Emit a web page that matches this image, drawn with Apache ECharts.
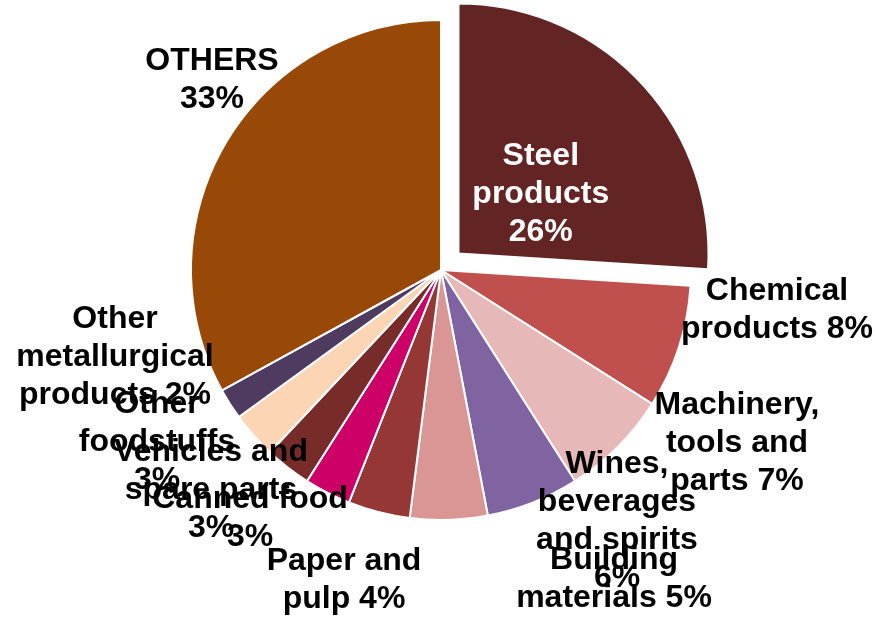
<!DOCTYPE html>
<html>
<head>
<meta charset="utf-8">
<script src="https://cdn.jsdelivr.net/npm/echarts@6/dist/echarts.min.js"></script>
<style>
  html, body { margin: 0; padding: 0; background: #ffffff; }
  #chart { width: 877px; height: 617px; }
</style>
</head>
<body>
<div id="chart"></div>
<script>
// Categories (with the line breaks used in the labels)
const categories = [
  'Steel\nproducts',
  'Chemical\nproducts',
  'Machinery,\ntools and\nparts',
  'Wines,\nbeverages\nand spirits',
  'Building\nmaterials',
  'Paper and\npulp',
  'Canned food',
  'Vehicles and\nspare parts',
  'Other\nfoodstuffs',
  'Other\nmetallurgical\nproducts',
  'OTHERS'
];
// Share of each category, percent
const shares = [26, 8, 7, 6, 5, 4, 3, 3, 3, 2, 33];
// Whether the percentage goes on its own line
const pctOnNewLine = [true, false, false, true, false, false, true, true, true, false, true];
const colors = ['#632523', '#C0504D', '#E6B9B8', '#8064A2', '#D99694', '#953735',
                '#CC0066', '#772C2A', '#FCD5B5', '#4F3A60', '#984807'];
// Label anchor points (text-block centres), in pixels; null = inside the slice
const labelAnchors = [
  null, [777, 310], [737, 443], [617, 521], [614, 579], [344, 580],
  [250, 518], [211, 490], [157, 442], [115, 357], [212, 80]
];

const chart = echarts.init(document.getElementById('chart'), null, { renderer: 'canvas' });

const data = categories.map((c, i) => ({
  name: c,
  value: shares[i],
  selected: i === 0,
  itemStyle: { color: colors[i] },
  label: i === 0
    ? { position: 'inside', color: '#ffffff' }
    : { color: '#000000' }
}));

chart.setOption({
  animation: false,
  backgroundColor: '#ffffff',
  series: [{
    type: 'pie',
    center: [441, 270],
    radius: [0, 250],
    startAngle: 90,
    clockwise: true,
    selectedMode: 'single',
    selectedOffset: 24,
    avoidLabelOverlap: false,
    itemStyle: { borderColor: '#ffffff', borderWidth: 2 },
    emphasis: { disabled: true },
    label: {
      show: true,
      position: 'outside',
      fontFamily: 'Liberation Sans, Arial, sans-serif',
      fontWeight: 'bold',
      fontSize: 32,
      lineHeight: 38,
      align: 'center',
      formatter: p => p.name + (pctOnNewLine[p.dataIndex] ? '\n' : ' ') + p.value + '%'
    },
    labelLine: { show: false },
    labelLayout: p => {
      const a = labelAnchors[p.dataIndex];
      if (!a) return { dx: -11, dy: 28, hideOverlap: false, moveOverlap: false };
      return {
        x: a[0],
        y: a[1],
        align: 'center',
        verticalAlign: 'middle',
        hideOverlap: false,
        moveOverlap: false
      };
    },
    data: data
  }]
});
</script>
</body>
</html>
